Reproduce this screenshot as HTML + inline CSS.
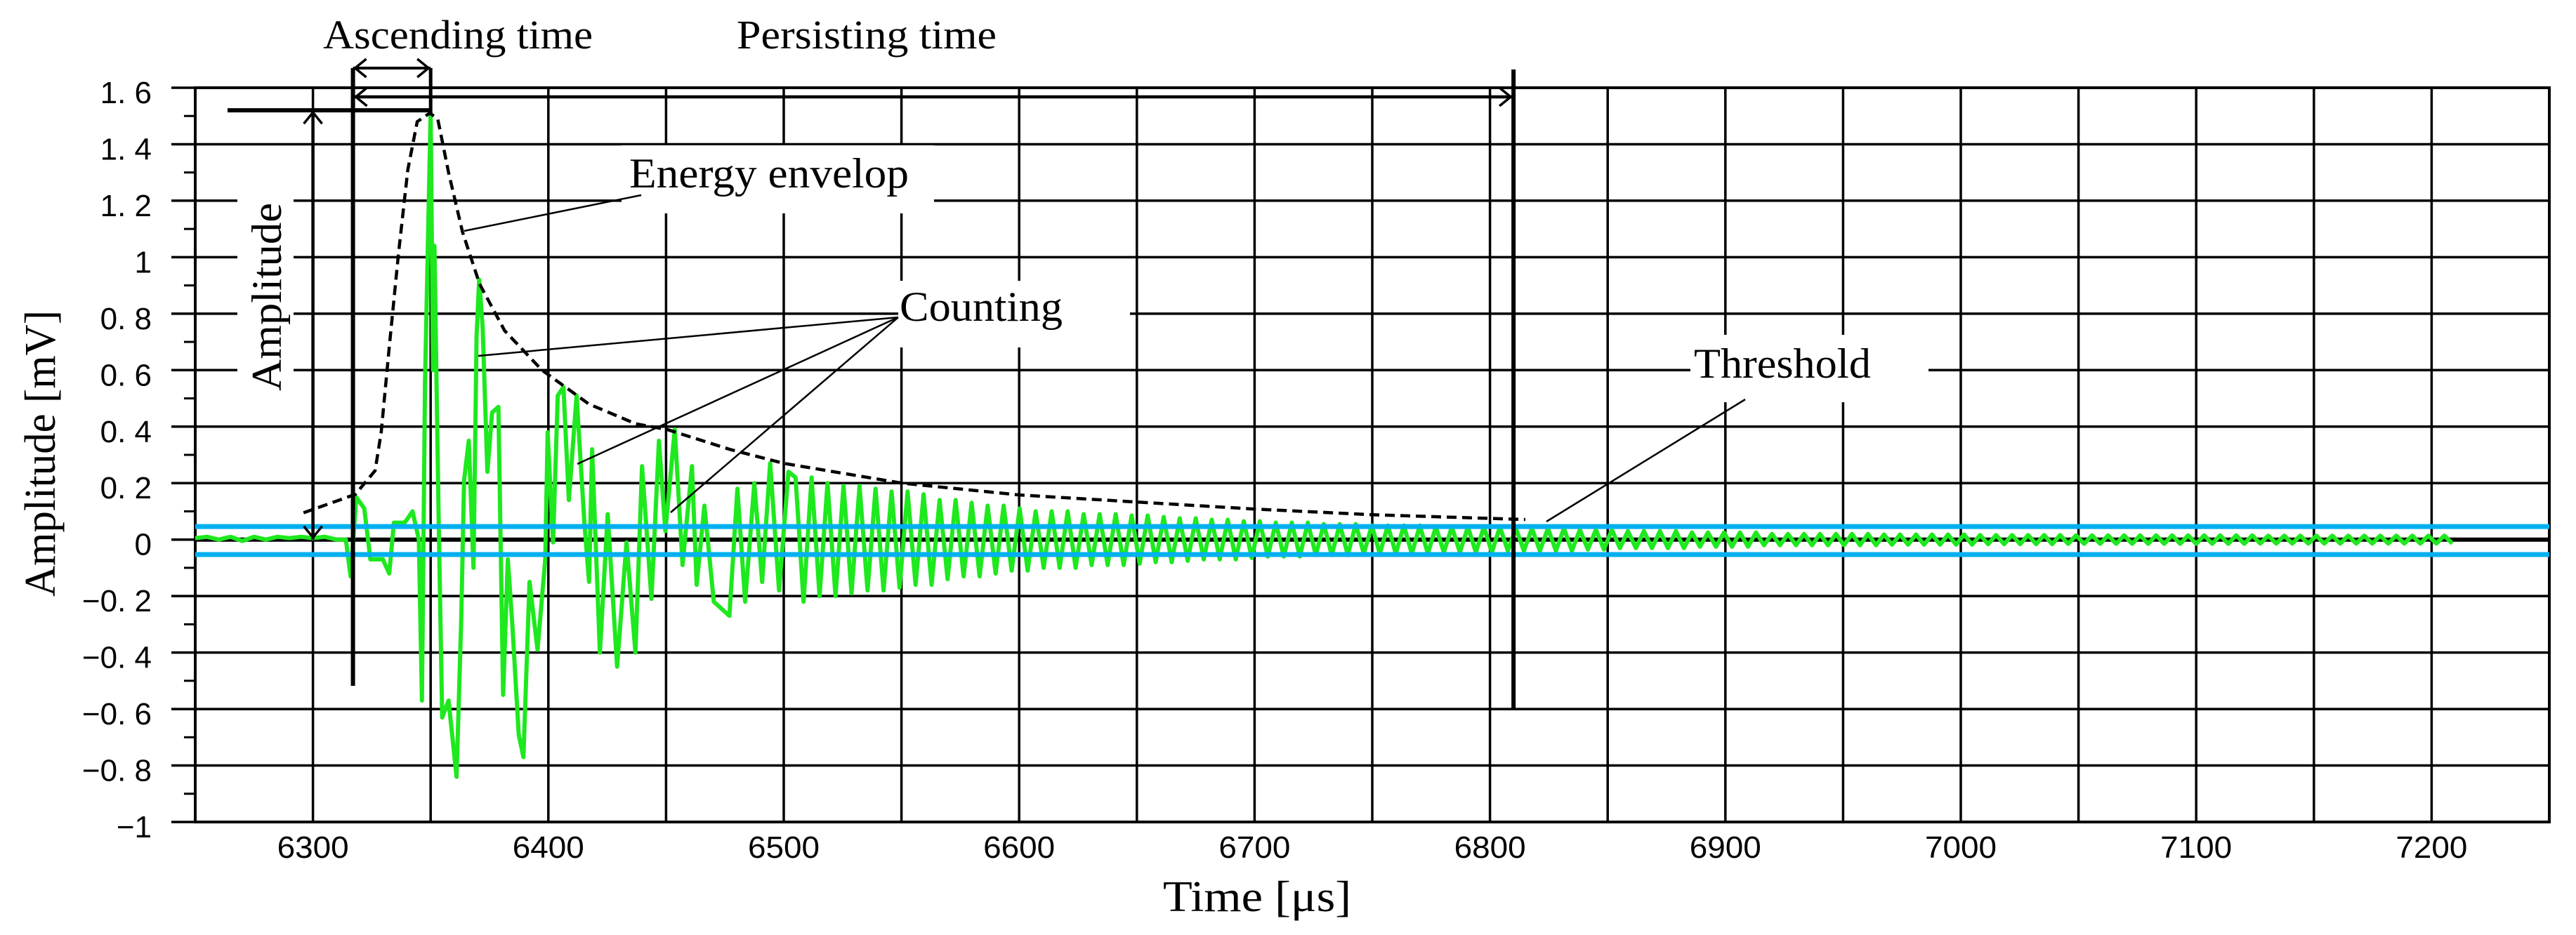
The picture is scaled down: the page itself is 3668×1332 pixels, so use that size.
<!DOCTYPE html>
<html><head><meta charset="utf-8"><style>
html,body{margin:0;padding:0;background:#fff;}
svg{display:block;}
</style></head><body>
<svg id="chart" xmlns="http://www.w3.org/2000/svg" width="3668" height="1332" viewBox="0 0 3668 1332">
<rect width="3668" height="1332" fill="#fff"/>
<g id="grid"></g>
<g id="marks"></g>
<g id="annot"></g>
<g id="labels"></g>
</svg>
<script>
// ---- data ----
const xTicks = [6300,6400,6500,6600,6700,6800,6900,7000,7100,7200];
const yTicks = [1.6,1.4,1.2,1,0.8,0.6,0.4,0.2,0,-0.2,-0.4,-0.6,-0.8,-1];
const yTickLabels = ["1. 6","1. 4","1. 2","1","0. 8","0. 6","0. 4","0. 2","0","\u22120. 2","\u22120. 4","\u22120. 6","\u22120. 8","\u22121"];
const thresholdHi = 0.046;
const thresholdLo = -0.053;
const earlyTimes = [6250,6255,6260,6265,6270,6275,6280,6285,6290,6295,6300,6305,6310,6314,6316,6318.4,6321.8,6324.4,6329.7,6332.4,6334.4,6339,6342.3,6345,6346.3,6347.6,6350,6351,6351.6,6353.3,6354.9,6357.6,6361,6363,6364.2,6366.2,6368.2,6369.5,6370.6,6372.1,6374.1,6376.1,6378.8,6380.8,6382.8,6384.7,6387.4,6389.4,6392,6395.4,6398.7,6399.7,6402,6404,6406.4,6408.7,6412,6415.3,6417.3,6418.6,6421.9,6425.2,6429.2,6433.2,6437,6439.8,6443.8,6447,6449.7,6453.7,6457,6461,6463,6466.3,6470.3,6476.9,6480.3,6483.6,6487.5,6490.8,6494.2,6498,6502];
const earlyValues = [0.005,0.01,0.0,0.01,-0.005,0.01,0.0,0.01,0.005,0.01,0.005,0.01,0.0,0.0,-0.13,0.15,0.11,-0.07,-0.07,-0.12,0.06,0.06,0.1,0.0,-0.57,0.56,1.51,0.6,1.04,0.12,-0.63,-0.57,-0.84,-0.28,0.21,0.35,-0.1,0.72,0.92,0.75,0.24,0.45,0.47,-0.55,-0.07,-0.3,-0.69,-0.77,-0.15,-0.39,-0.07,0.38,-0.01,0.51,0.54,0.14,0.51,0.06,-0.15,0.32,-0.4,0.09,-0.45,-0.01,-0.4,0.26,-0.21,0.35,0.03,0.39,-0.09,0.26,-0.16,0.12,-0.22,-0.27,0.18,-0.22,0.2,-0.15,0.27,-0.18,0.24];
const tailStart = 6505;
const tailBin = 10;
const tailEnd = 7210;
const tailAmp = [0.22,0.2,0.19,0.18,0.17,0.16,0.14,0.13,0.12,0.11,
 0.1,0.1,0.09,0.09,0.085,0.08,0.075,0.07,0.07,0.065,
 0.06,0.06,0.055,0.055,0.05,0.05,0.05,0.045,0.045,0.045,
 0.04,0.04,0.04,0.035,0.035,0.03,0.03,0.03,0.025,0.025,
 0.025,0.02,0.02,0.02,0.02,0.02,0.018,0.018,0.018,0.018,
 0.016,0.016,0.016,0.016,0.015,0.015,0.015,0.015,0.015,0.015,
 0.015,0.015,0.014,0.014,0.014,0.014,0.014,0.014,0.014,0.014,0.014];
const halfPeriod = 3.4;
const envTimes = [6296,6318,6326.4,6329,6332.4,6336.3,6340.3,6344.3,6349.6,6353,6357.6,6363.5,6370.8,6381.4,6397.3,6417.2,6437.1,6450.4,6476.9,6500,6550,6600,6650,6700,6750,6815];
const envValues = [0.095,0.16,0.244,0.38,0.68,1.01,1.31,1.48,1.51,1.49,1.30,1.09,0.905,0.74,0.6,0.48,0.41,0.39,0.32,0.27,0.2,0.158,0.133,0.108,0.088,0.071];
const ascendStart = 6317, peakTime = 6350, peakValue = 1.52, persistEnd = 6810, amplitudeMarkT = 6300;

// ---- axes ----
const X0=278, X1=3630, Y0=125, Y1=1171, T0=6250, T1=7250, V0=-1, V1=1.6;
function x(t){return X0+(t-T0)*(X1-X0)/(T1-T0);}
function y(v){return Y1-(v-V0)*(Y1-Y0)/(V1-V0);}
const NS='http://www.w3.org/2000/svg';
function mk(tag,attrs,parent){const e=document.createElementNS(NS,tag);for(const k in attrs)e.setAttribute(k,attrs[k]);parent.appendChild(e);return e;}
const grid=document.getElementById('grid'),marks=document.getElementById('marks'),annot=document.getElementById('annot'),labels=document.getElementById('labels');

for(let t=6300;t<=7200;t+=50){
  const l=mk('line',{x1:x(t),x2:x(t),y1:Y0,y2:Y1,stroke:'#000','stroke-width':3.5},grid);
  
  
}
for(let i=0;i<yTicks.length;i++){
  const v=yTicks[i];
  const l=mk('line',{x1:244,x2:X1,y1:y(v),y2:y(v),stroke:'#000','stroke-width':3.5},grid);
  
  
  if(i<yTicks.length-1){
    const m=mk('line',{x1:262,x2:X0,y1:y(v-0.1),y2:y(v-0.1),stroke:'#000','stroke-width':3},grid);
    
    
  }
}
const frame=mk('rect',{x:X0,y:Y0,width:X1-X0,height:Y1-Y0,fill:'none',stroke:'#000','stroke-width':4},grid);



const boxes=[[885,207,445,97],[1279,400,330,95],[2407,477,339,96],[338,276,80,289]];
boxes.forEach(b=>{const r=mk('rect',{x:b[0],y:b[1],width:b[2],height:b[3],fill:'#fff'},grid);
  
  });

const z=mk('line',{x1:X0,x2:X1,y1:y(0),y2:y(0),stroke:'#000','stroke-width':6},marks);



let pts=[];
for(let i=0;i<earlyTimes.length;i++)pts.push([earlyTimes[i],earlyValues[i]]);
let s=1;
for(let t=tailStart;t<=tailEnd;t+=halfPeriod){
  const a=tailAmp[Math.min(tailAmp.length-1,Math.floor((t-tailStart)/tailBin))];
  pts.push([t,s*a]);s=-s;
}
const sig=mk('polyline',{points:pts.map(p=>x(p[0]).toFixed(1)+','+y(p[1]).toFixed(1)).join(' '),fill:'none',stroke:'#1ee81e','stroke-width':6,'stroke-linejoin':'round'},marks);



[thresholdHi,thresholdLo].forEach(v=>{
  const l=mk('line',{x1:X0,x2:X1,y1:y(v),y2:y(v),stroke:'#00b0f0','stroke-width':7},marks);
  
  
});

const env=mk('polyline',{points:envTimes.map((t,i)=>x(t).toFixed(1)+','+y(envValues[i]).toFixed(1)).join(' '),fill:'none',stroke:'#000','stroke-width':4.5,'stroke-dasharray':'14 8'},marks);



function ln(x1,y1,x2,y2,w,name){const l=mk('line',{x1,y1,x2,y2,stroke:'#000','stroke-width':w},annot);
  
  return l;}
function head(px,py,dx,dy,name){const p=mk('polyline',{points:`${px+dx*16-dy*13},${py+dy*16-dx*13} ${px},${py} ${px+dx*16+dy*13},${py+dy*16+dx*13}`,fill:'none',stroke:'#000','stroke-width':3.5},annot);
  
  }
const xa=x(ascendStart), xp=x(peakTime), xe=x(persistEnd), xm=x(amplitudeMarkT);
ln(xa,97,xa,977,6,'ascending-start-marker');
ln(xp,97,xp,y(peakValue)+4,5,'peak-marker');
ln(xa,97,xp,97,4,'ascending-time-arrow');
head(xa+3,97,1,0,'arrowhead');head(xp-3,97,-1,0,'arrowhead');
ln(xa,138,xe,138,4.5,'persisting-time-arrow');
head(xa+4,138,1,0,'arrowhead');head(xe-4,138,-1,0,'arrowhead');
ln(xe,99,xe,1010,6,'persisting-end-marker');
ln(324,y(peakValue),xp,y(peakValue),6,'amplitude-top-line');
ln(xm,y(peakValue),xm,y(0),4.5,'amplitude-arrow');
head(xm,y(peakValue)+3,0,1,'arrowhead');head(xm,y(0)-3,0,-1,'arrowhead');
ln(913,278,661,329,2.5,'energy-envelop-leader');
ln(1279,452,681,507,2.5,'counting-leader');
ln(1279,452,822,661,2.5,'counting-leader');
ln(1279,452,955,730,2.5,'counting-leader');
ln(2485,569,2202,743,2.5,'threshold-leader');

function tx(str,ax,ay,size,fam,anchor,len,name,rot){
  const a={x:ax,y:ay,'font-size':size,'font-family':fam,'text-anchor':anchor,fill:'#000'};
  if(len){a.textLength=len;a.lengthAdjust='spacingAndGlyphs';}
  if(rot)a.transform=`rotate(-90 ${ax} ${ay})`;
  const t=mk('text',a,labels);t.textContent=str;
  
  return t;}
const serif='"Liberation Serif", serif', sans='"Liberation Sans", sans-serif';
tx('Ascending time',460,69,58,serif,'start',384,'ascending-time-label');
tx('Persisting time',1049,69,58,serif,'start',370,'persisting-time-label');
tx('Energy envelop',896,267,60,serif,'start',398,'energy-envelop-label');
tx('Counting',1281,457,60,serif,'start',232,'counting-label');
tx('Threshold',2412,538,60,serif,'start',252,'threshold-label');
tx('Amplitude',400,423,60,serif,'middle',268,'amplitude-annotation-label',true);
tx('Amplitude [mV]',78,646,62,serif,'middle',408,'y-axis-title',true);
tx('Time [\u03bcs]',1790,1298,62,serif,'middle',268,'x-axis-title');
yTicks.forEach((v,i)=>{tx(yTickLabels[i],216,y(v)+22,44,sans,'end',null,'y-tick-label');});
xTicks.forEach(t=>{tx(String(t),x(t),1222,44,sans,'middle',102,'x-tick-label');});
</script>
</body></html>
